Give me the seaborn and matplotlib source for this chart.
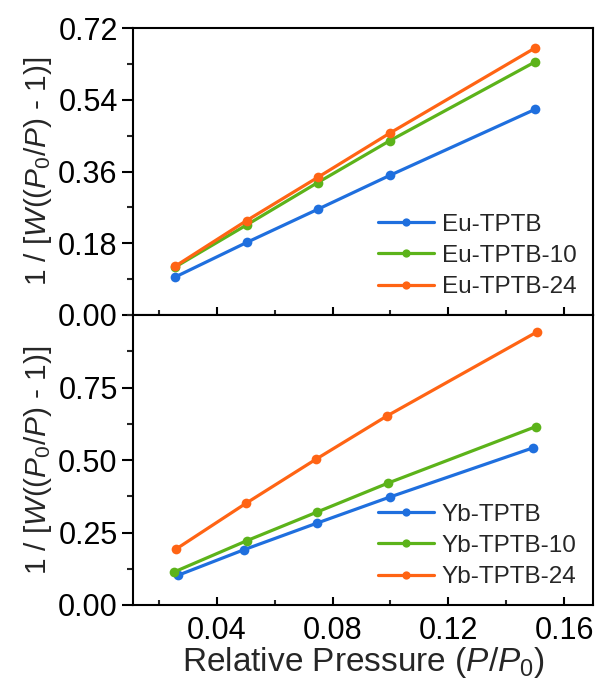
import numpy as np
import pandas as pd
import matplotlib
matplotlib.use("Agg")
import matplotlib.pyplot as plt
import seaborn as sns
from matplotlib.ticker import MultipleLocator, FixedLocator

# ---------------- data ----------------
eu_labels = ["Eu-TPTB", "Eu-TPTB-10", "Eu-TPTB-24"]
eu_x = [0.0255, 0.0503, 0.0748, 0.0997, 0.1500]
eu_tptb = [0.095, 0.182, 0.265, 0.350, 0.516]
eu_tptb10 = [0.120, 0.226, 0.332, 0.437, 0.635]
eu_tptb24 = [0.122, 0.237, 0.345, 0.456, 0.670]

yb_labels = ["Yb-TPTB", "Yb-TPTB-10", "Yb-TPTB-24"]
yb_x_tptb = [0.0267, 0.0492, 0.0745, 0.0997, 0.1493]
yb_x_tptb10 = [0.0250, 0.0504, 0.0745, 0.0993, 0.1502]
yb_x_tptb24 = [0.0259, 0.0501, 0.0743, 0.0988, 0.1507]
yb_tptb = [0.103, 0.190, 0.282, 0.372, 0.542]
yb_tptb10 = [0.113, 0.222, 0.320, 0.421, 0.615]
yb_tptb24 = [0.193, 0.351, 0.503, 0.652, 0.942]

top_yticks = [0.00, 0.18, 0.36, 0.54, 0.72]
bot_yticks = [0.00, 0.25, 0.50, 0.75]
xticks = [0.04, 0.08, 0.12, 0.16]

colors = ["#1f6fde", "#5cb31a", "#ff6414"]

# ---------------- style ----------------
sns.set_theme(style="white")
plt.rcParams["font.family"] = ["Liberation Sans", "DejaVu Sans"]
plt.rcParams["mathtext.fontset"] = "custom"
plt.rcParams["mathtext.rm"] = "Liberation Sans"
plt.rcParams["mathtext.it"] = "Liberation Sans:italic"
plt.rcParams["mathtext.bf"] = "Liberation Sans:bold"

df_eu = pd.DataFrame({
    "x": eu_x * 3,
    "y": eu_tptb + eu_tptb10 + eu_tptb24,
    "s": [eu_labels[0]] * 5 + [eu_labels[1]] * 5 + [eu_labels[2]] * 5,
})
df_yb = pd.DataFrame({
    "x": yb_x_tptb + yb_x_tptb10 + yb_x_tptb24,
    "y": yb_tptb + yb_tptb10 + yb_tptb24,
    "s": [yb_labels[0]] * 5 + [yb_labels[1]] * 5 + [yb_labels[2]] * 5,
})

fig = plt.figure(figsize=(6.0, 6.85), dpi=100)
L, W = 133 / 600, 460 / 600
ax1 = fig.add_axes([L, 1 - 315 / 685, W, 287 / 685])
ax2 = fig.add_axes([L, 1 - 605 / 685, W, 290 / 685])

tick_fs = 22
leg_fs = 17.5
ylab_fs = 21.5
xlab_fs = 24

ylabel = r"1 / [$\mathit{W}$(($\mathit{P}_{\mathrm{0}}$/$\mathit{P}$) - 1)]"

for ax, df, labels, ylim, yt in [
    (ax1, df_eu, eu_labels, (0, 0.72), top_yticks),
    (ax2, df_yb, yb_labels, (0, 1.0), bot_yticks),
]:
    sns.lineplot(data=df, x="x", y="y", hue="s", hue_order=labels,
                 palette=colors, marker="o", markersize=7, linewidth=2.3,
                 markeredgewidth=0, sort=False, ax=ax)
    ax.set_xlim(0.011, 0.170)
    ax.set_ylim(*ylim)
    ax.yaxis.set_major_locator(FixedLocator(yt))
    ax.yaxis.set_minor_locator(MultipleLocator(yt[1] / 2))
    ax.xaxis.set_major_locator(FixedLocator(xticks))
    ax.xaxis.set_minor_locator(MultipleLocator(0.02))
    ax.yaxis.set_major_formatter(matplotlib.ticker.FormatStrFormatter("%.2f"))
    ax.xaxis.set_major_formatter(matplotlib.ticker.FormatStrFormatter("%.2f"))
    for s in ax.spines.values():
        s.set_linewidth(1.5)
        s.set_color("black")
    ax.tick_params(axis="y", which="major", direction="out", length=8, width=1.5,
                   labelsize=tick_fs, left=True, pad=3, colors="black")
    ax.tick_params(axis="y", which="minor", direction="out", length=4.5, width=1.5,
                   left=True)
    ax.tick_params(axis="x", which="major", direction="in", length=6, width=1.5,
                   labelsize=tick_fs, bottom=True, pad=8, colors="black")
    ax.tick_params(axis="x", which="minor", direction="in", length=3.5, width=1.5,
                   bottom=True)
    ax.set_ylabel(ylabel, fontsize=ylab_fs, labelpad=3)
    ax.set_xlabel("")
    leg = ax.legend(loc="lower right", bbox_to_anchor=(0.985, 0.025), frameon=False,
                    fontsize=leg_fs, handlelength=2.3, labelspacing=0.38,
                    handletextpad=0.3, borderaxespad=0, markerscale=0.85)

ax1.tick_params(axis="x", labelbottom=False)
ax2.set_xlabel(r"Relative Pressure ($\mathit{P}$/$\mathit{P}_{\mathrm{0}}$)", fontsize=xlab_fs, labelpad=-1)

fig.savefig("out.png", dpi=100)
